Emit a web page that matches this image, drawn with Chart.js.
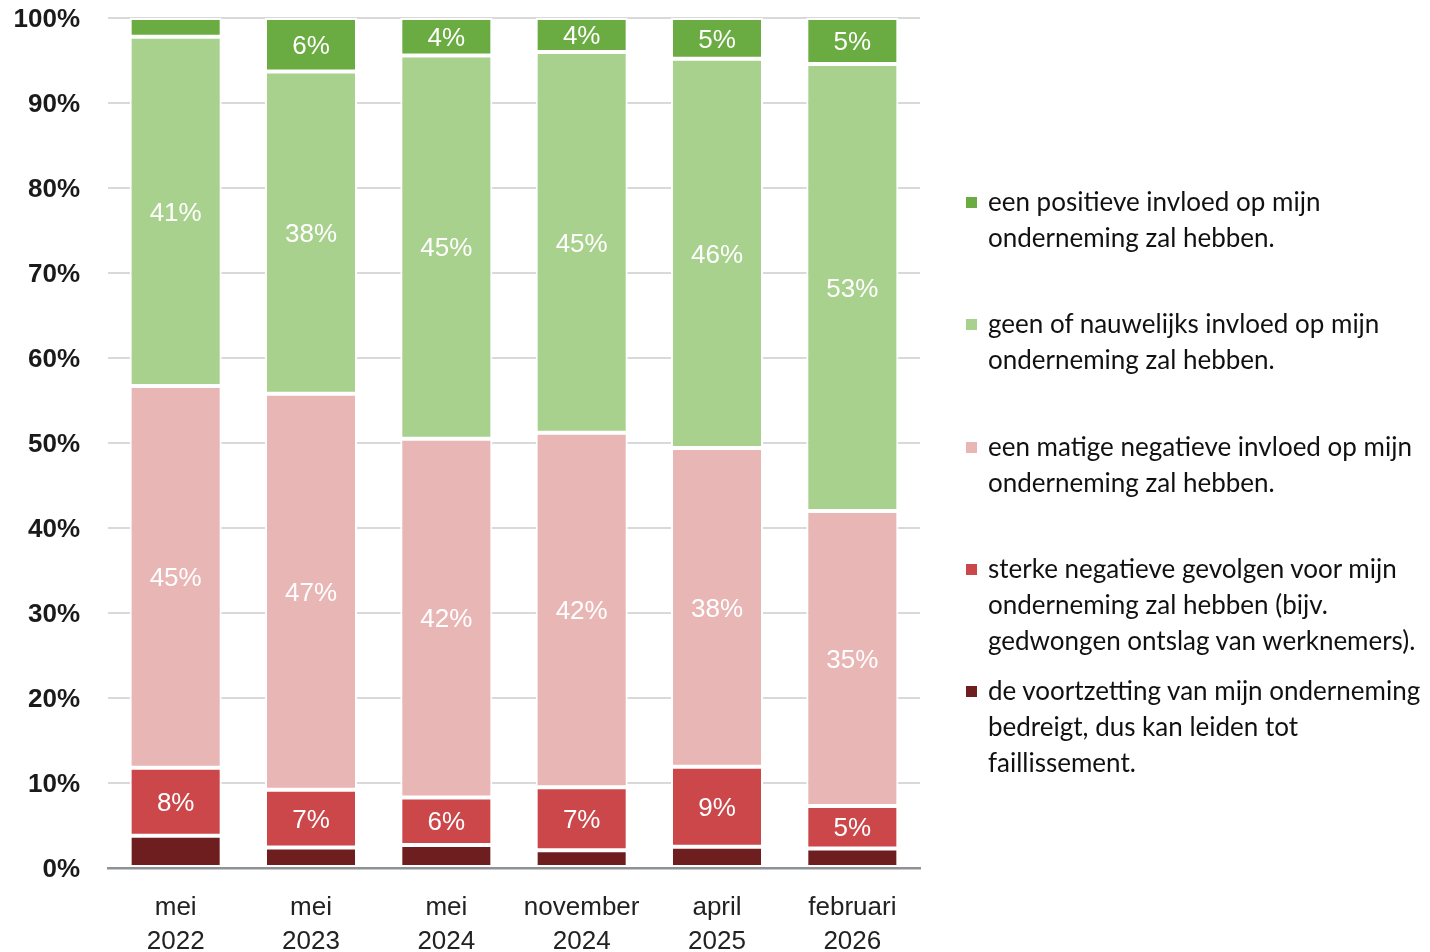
<!DOCTYPE html>
<html>
<head>
<meta charset="utf-8">
<script src="https://cdn.jsdelivr.net/npm/chart.js@4.4.1/dist/chart.umd.min.js"></script>
<style>
  body { margin: 0; background: #fff; }
  #wrap { position: relative; width: 1430px; height: 952px; overflow: hidden; }
  #legend { position: absolute; left: 0; top: 0; }
  .item { position: absolute; left: 966px; font-family: Lato, "Noto Sans", sans-serif; font-size: 26px; line-height: 36px; color: #111; white-space: nowrap; }
  .item .sw { position: absolute; left: 0; top: 14px; width: 11px; height: 11px; }
  .item .txt { margin-left: 22px; }
</style>
</head>
<body>
<div id="wrap">
  <canvas id="myChart" width="1430" height="952"></canvas>
  <div id="legend"></div>
</div>
<script>
// categories (x axis, two lines each)
const categories = [
  ['mei', '2022'],
  ['mei', '2023'],
  ['mei', '2024'],
  ['november', '2024'],
  ['april', '2025'],
  ['februari', '2026']
]

// series values in %
const bedreigd = [3.8, 2.4, 2.7, 2.1, 2.5, 2.3]
const sterkNegatief = [8.0, 6.8, 5.6, 7.4, 9.4, 5.0]
const matigNegatief = [44.9, 46.6, 42.2, 41.7, 37.5, 34.7]
const geenInvloed = [41.1, 37.9, 45.1, 44.8, 45.8, 52.6]
const positief = [2.2, 6.3, 4.4, 4.0, 4.8, 5.4]

// series names (legend text, as it wraps in the original)
const namePositief = ['een positieve invloed op mijn', 'onderneming zal hebben.']
const nameGeen = ['geen of nauwelijks invloed op mijn', 'onderneming zal hebben.']
const nameMatig = ['een matige negatieve invloed op mijn', 'onderneming zal hebben.']
const nameSterk = ['sterke negatieve gevolgen voor mijn', 'onderneming zal hebben (bijv.', 'gedwongen ontslag van werknemers).']
const nameBedreigd = ['de voortzetting van mijn onderneming', 'bedreigt, dus kan leiden tot', 'faillissement.']

// y axis ticks
const yTicks = [0, 10, 20, 30, 40, 50, 60, 70, 80, 90, 100]

const colors = {
  positief: '#6aac41',
  geen: '#a9d18e',
  matig: '#e9b6b6',
  sterk: '#cb474a',
  bedreigd: '#6e1e1f'
}

function serie(name, data, color, showLabels) {
  return {
    label: name.join(' '),
    lines: name,
    data: data,
    backgroundColor: color,
    borderColor: '#ffffff',
    borderWidth: 2,
    borderSkipped: false,
    showLabels: showLabels
  }
}

// draws the rounded % inside each segment
const barLabels = {
  id: 'barLabels',
  afterDatasetsDraw(chart) {
    const ctx = chart.ctx
    ctx.save()
    ctx.font = '26px "Liberation Sans", Arial, sans-serif'
    ctx.fillStyle = '#ffffff'
    ctx.textAlign = 'center'
    ctx.textBaseline = 'middle'
    chart.data.datasets.forEach((ds, i) => {
      if (!ds.showLabels) return
      chart.getDatasetMeta(i).data.forEach((bar, j) => {
        const v = ds.data[j]
        if (v < 3) return
        const p = bar.getProps(['x', 'y', 'base'], true)
        ctx.fillText(Math.round(v) + '%', p.x, (p.y + p.base) / 2 + 2)
      })
    })
    ctx.restore()
  }
}

const myChart = document.getElementById('myChart').getContext('2d')
let graph = new Chart(myChart, {
  type: 'bar',
  data: {
    labels: categories,
    datasets: [
      serie(nameBedreigd, bedreigd, colors.bedreigd, false),
      serie(nameSterk, sterkNegatief, colors.sterk, true),
      serie(nameMatig, matigNegatief, colors.matig, true),
      serie(nameGeen, geenInvloed, colors.geen, true),
      serie(namePositief, positief, colors.positief, true)
    ]
  },
  options: {
    responsive: false,
    animation: false,
    devicePixelRatio: 1,
    barPercentage: 0.68,
    categoryPercentage: 1,
    layout: {
      padding: { left: 8, top: 18, right: 510, bottom: 0 }
    },
    plugins: {
      legend: { display: false },
      tooltip: { enabled: false }
    },
    scales: {
      x: {
        stacked: true,
        grid: { display: false, drawTicks: false },
        border: { display: true, color: '#8e9196', width: 2.5, z: 1 },
        ticks: {
          padding: 23,
          color: '#222222',
          font: { family: '"Liberation Sans", Arial, sans-serif', size: 26, lineHeight: 1.3 }
        },
        afterFit(scale) { scale.height = 84 }
      },
      y: {
        stacked: true,
        min: 0,
        max: 100,
        afterBuildTicks(scale) { scale.ticks = yTicks.map(v => ({ value: v })) },
        grid: { color: '#d9d9d9', lineWidth: 2, drawTicks: false },
        border: { display: false },
        ticks: {
          padding: 28,
          labelOffset: 2,
          color: '#1a1a1a',
          font: { family: '"Liberation Sans", Arial, sans-serif', size: 26, weight: 'bold' },
          callback: v => v + '%'
        },
        afterFit(scale) {
          scale.width = 100
          // tick padding would otherwise push the plot down
          scale.paddingTop = 0
          scale.paddingBottom = 0
        }
      }
    }
  },
  plugins: [barLabels]
})

// legend on the right, top to bottom from the top series down
const legend = document.getElementById('legend')
const order = graph.data.datasets.slice().reverse()
order.forEach((ds, i) => {
  const item = document.createElement('div')
  item.className = 'item'
  item.style.top = (183 + i * 122.3) + 'px'
  item.innerHTML = '<span class="sw" style="background:' + ds.backgroundColor + '"></span>' +
    '<div class="txt">' + ds.lines.join('<br>') + '</div>'
  legend.appendChild(item)
})
</script>
</body>
</html>
